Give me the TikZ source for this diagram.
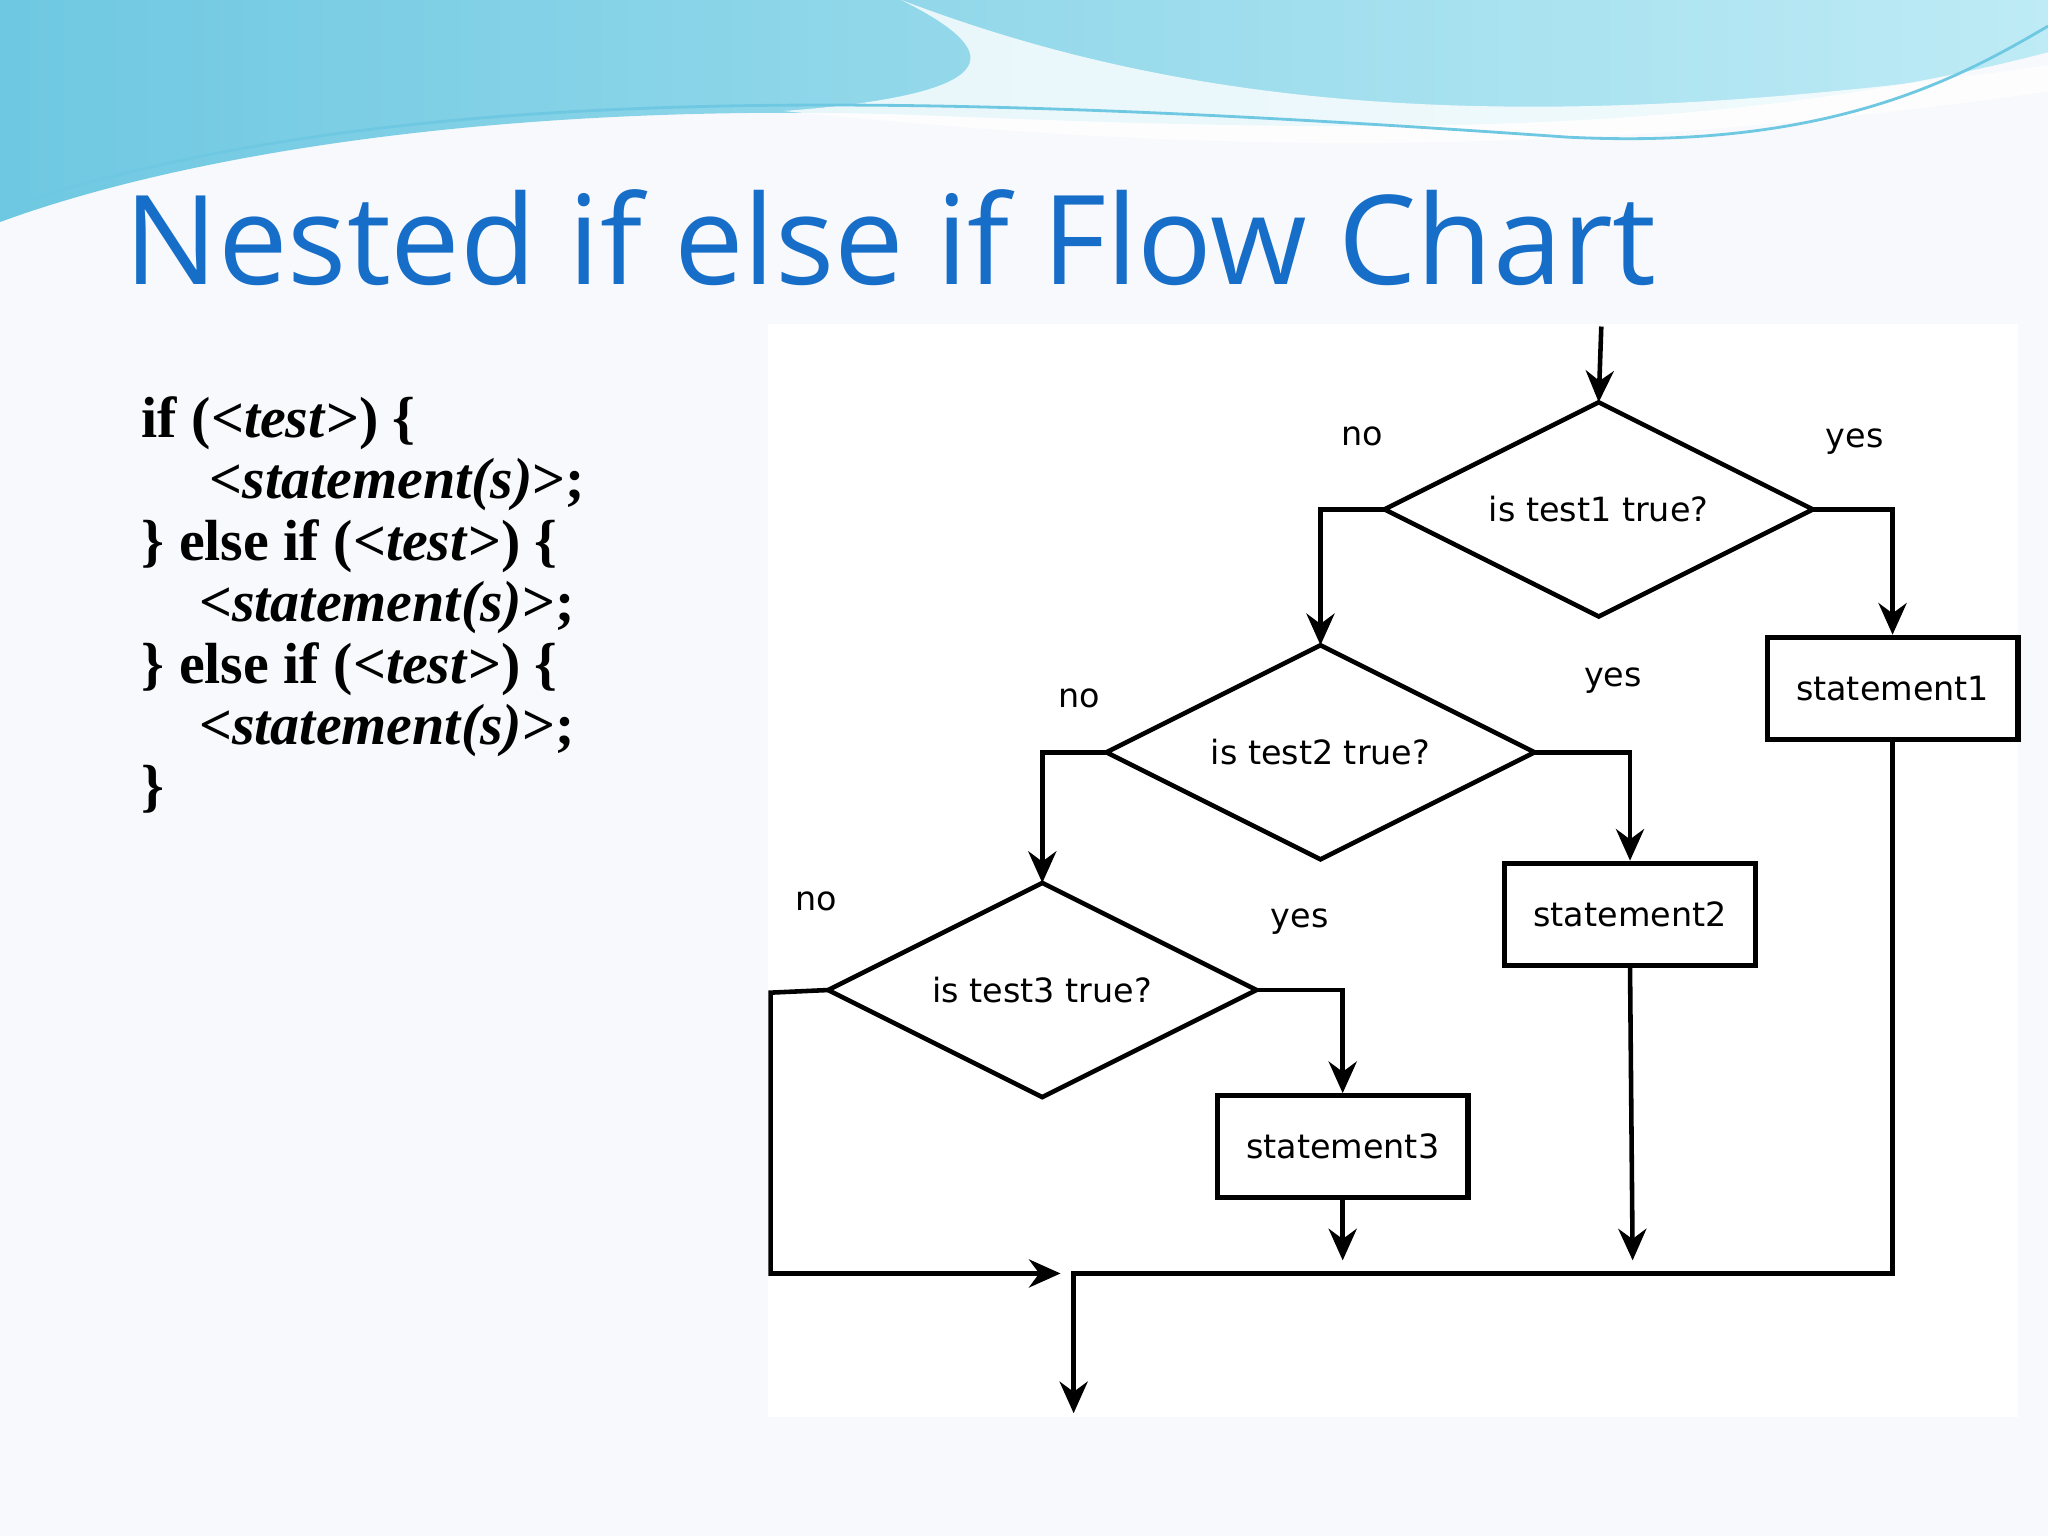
\documentclass[tikz,border=0pt]{standalone}
\usepackage{fontspec}
\setmainfont{Liberation Serif}
\newfontfamily\titlefont{Open Sans}
\newfontfamily\flowfont{DejaVu Sans}
\usetikzlibrary{shapes.geometric,arrows.meta}
\definecolor{slidebg}{RGB}{248,249,252}
\definecolor{titleblue}{RGB}{22,110,200}
\definecolor{wavecyan}{RGB}{110,200,225}
\definecolor{wavelight}{RGB}{190,235,245}
\tikzset{
  dec/.style={diamond, aspect=2, draw, line width=1.3pt, inner sep=0pt, outer sep=0pt, minimum width=4.284cm, minimum height=2.142cm, font=\flowfont\fontsize{9.5}{11}\selectfont},
  stbox/.style={rectangle, draw, line width=1.5pt, inner sep=0pt, minimum width=2.508cm, minimum height=1.019cm, font=\flowfont\fontsize{9.5}{11}\selectfont},
  conn/.style={line width=1.3pt, -{Stealth[length=9pt,width=8pt]}},
  lbl/.style={font=\flowfont\fontsize{9.5}{11}\selectfont},
  code/.style={anchor=base west, inner sep=0pt, font=\fontsize{16.5}{19}\selectfont\bfseries}
}
\begin{document}
\begin{tikzpicture}[x=0.013061cm,y=-0.013061cm]
\useasboundingbox (0,0) rectangle (1568,1176);
\fill[slidebg] (0,0) rectangle (1568,1176);
% waves
\shade[left color=wavecyan, right color=wavelight] (0,0) -- (1568,0) -- (1568,40) .. controls (1300,110) and (1000,100) .. (700,88) .. controls (400,78) and (150,115) .. (0,170) -- cycle;
\fill[white,opacity=0.8] (690,0) .. controls (900,80) and (1150,110) .. (1568,50) -- (1568,70) .. controls (1150,130) and (850,110) .. (600,85) .. controls (800,70) and (750,30) .. (690,0) -- cycle;
\draw[wavecyan,line width=0.8pt] (0,160) .. controls (300,60) and (700,70) .. (1200,105) .. controls (1400,115) and (1500,60) .. (1568,20);
\node[anchor=base west, inner sep=0pt, text=titleblue, font=\titlefont\fontsize{35.3}{40}\selectfont] (title) at (95,218) {Nested if else if Flow Chart};
% code
\node[code] (c1) at (108,335) {if (<\textit{test}>) \{};
\node[code] (c2) at (160,382) {<\textit{statement(s)}>;};
\node[code] (c3) at (108,429) {\} else if (<\textit{test}>) \{};
\node[code] (c4) at (152,476) {<\textit{statement(s)}>;};
\node[code] (c5) at (108,523) {\} else if (<\textit{test}>) \{};
\node[code] (c6) at (152,570) {<\textit{statement(s)}>;};
\node[code] (c7) at (108,617) {\}};
% chart background
\fill[white] (588,248) rectangle (1545,1085);
\node[dec] (d1) at (1224,390) {is test1 true?};
\node[dec] (d2) at (1011,576) {is test2 true?};
\node[dec] (d3) at (798,758) {is test3 true?};
\node[stbox] (s1) at (1449,527) {statement1};
\node[stbox] (s2) at (1248,700) {statement2};
\node[stbox] (s3) at (1028,878) {statement3};
\coordinate (in) at (1226,250);
\coordinate (e3) at (1028,965);
\coordinate (e2) at (1250,965);
\coordinate (m) at (812,975);
\coordinate (out) at (822,1082);
\draw[conn] (in) -- (d1.north);
\draw[conn] (d1.west) -| (d2.north);
\draw[conn] (d1.east) -| (s1.north);
\draw[conn] (d2.west) -| (d3.north);
\draw[conn] (d2.east) -| (s2.north);
\draw[conn] (d3.east) -| (s3.north);
\draw[conn] (d3.west) -- (590,760) |- (m);
\draw[conn] (s3.south) -- (e3);
\draw[conn] (s2.south) -- (e2);
\draw[conn] (s1.south) |- (822,975) -- (out);
\node[lbl] (n1) at (1043,334) {no};
\node[lbl] (y1) at (1420,338) {yes};
\node[lbl] (n2) at (826,535) {no};
\node[lbl] (y2) at (1235,521) {yes};
\node[lbl] (n3) at (625,690) {no};
\node[lbl] (y3) at (995,706) {yes};
\end{tikzpicture}
\end{document}
